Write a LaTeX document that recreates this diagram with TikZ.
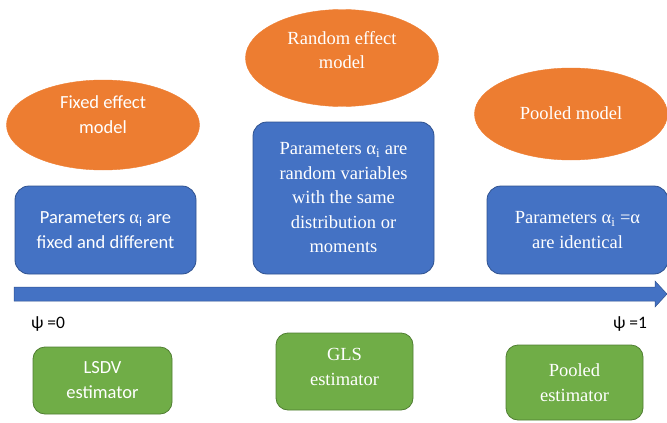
\documentclass[tikz,border=0pt]{standalone}
\usepackage{fontspec}
\setmainfont{Liberation Serif}
\newfontfamily\calfont{Carlito}
\newfontfamily\timesfont{Liberation Serif}
\usetikzlibrary{shapes.geometric}
\definecolor{orng}{HTML}{ED7D31}
\definecolor{blu}{HTML}{4472C4}
\definecolor{bluedge}{HTML}{2F528F}
\definecolor{grn}{HTML}{70AD47}
\definecolor{grnedge}{HTML}{507E32}
\tikzset{
  oval/.style={ellipse, fill=orng, draw=orng, inner sep=0pt},
  txt/.style={text=white, align=center, inner sep=0pt},
  bbox/.style={rounded corners=14pt, fill=blu, draw=bluedge, line width=0.8pt, text=white, align=center, inner sep=0pt},
  gbox/.style={rounded corners=12pt, fill=grn, draw=grnedge, line width=0.8pt, text=white, align=center, inner sep=0pt},
  lbl/.style={inner sep=0pt, anchor=base},
  cf/.style={font=\calfont\fontsize{18.5}{25}\selectfont},
  tf/.style={font=\fontsize{18.5}{24.5}\selectfont},
}
\begin{document}
\begin{tikzpicture}[x=1pt,y=-1pt]
\useasboundingbox (0,0) rectangle (667,423);
% ellipses
\node[oval, minimum width=193pt, minimum height=90pt] (fe) at (103,125) {};
\node[txt, cf] (fet) at (103,115) {Fixed effect\\model};
\node[oval, minimum width=193pt, minimum height=97pt] (re) at (342,58) {};
\node[txt, tf] (ret) at (342,50) {Random effect\\model};
\node[oval, minimum width=193pt, minimum height=92pt] (pm) at (571,114) {};
\node[txt, tf] (pmt) at (571,113) {Pooled model};
% blue boxes
\node[bbox, cf, minimum width=181pt, minimum height=88pt] (b1) at (105.5,230) {Parameters {\timesfont α}\textsubscript{i} are\\fixed and different};
\node[bbox, tf, minimum width=181pt, minimum height=152pt] (b2) at (343.5,198) {Parameters α\textsubscript{i} are\\random variables\\with the same\\distribution or\\moments};
\node[bbox, tf, minimum width=181pt, minimum height=88pt] (b3) at (577.5,230) {Parameters α\textsubscript{i} =α\\are identical};
% axis arrow
\coordinate (as) at (14,294);
\coordinate (ae) at (667,294);
\filldraw[fill=blu, draw=bluedge, line width=0.5pt] (as) ++(0,-7) -- (655,287) -- (655,281) -- (ae) -- (655,307) -- (655,301) -- (14,301) -- cycle;
\node[lbl, font=\calfont\fontsize{17.5}{20}\selectfont] (p0) at (48,328) {ψ =0};
\node[lbl, font=\calfont\fontsize{17.5}{20}\selectfont] (p1) at (630,328) {ψ =1};
% green boxes
\node[gbox, cf, minimum width=139pt, minimum height=67pt] (g1) at (102.5,380.5) {LSDV\\estimator};
\node[gbox, tf, minimum width=137pt, minimum height=77pt] (g2) at (344.5,371.5) {};
\node[txt, tf] (g2t) at (344.5,367) {GLS\\estimator};
\node[gbox, tf, minimum width=137pt, minimum height=75pt] (g3) at (574.5,382.5) {Pooled\\estimator};
\end{tikzpicture}
\end{document}
